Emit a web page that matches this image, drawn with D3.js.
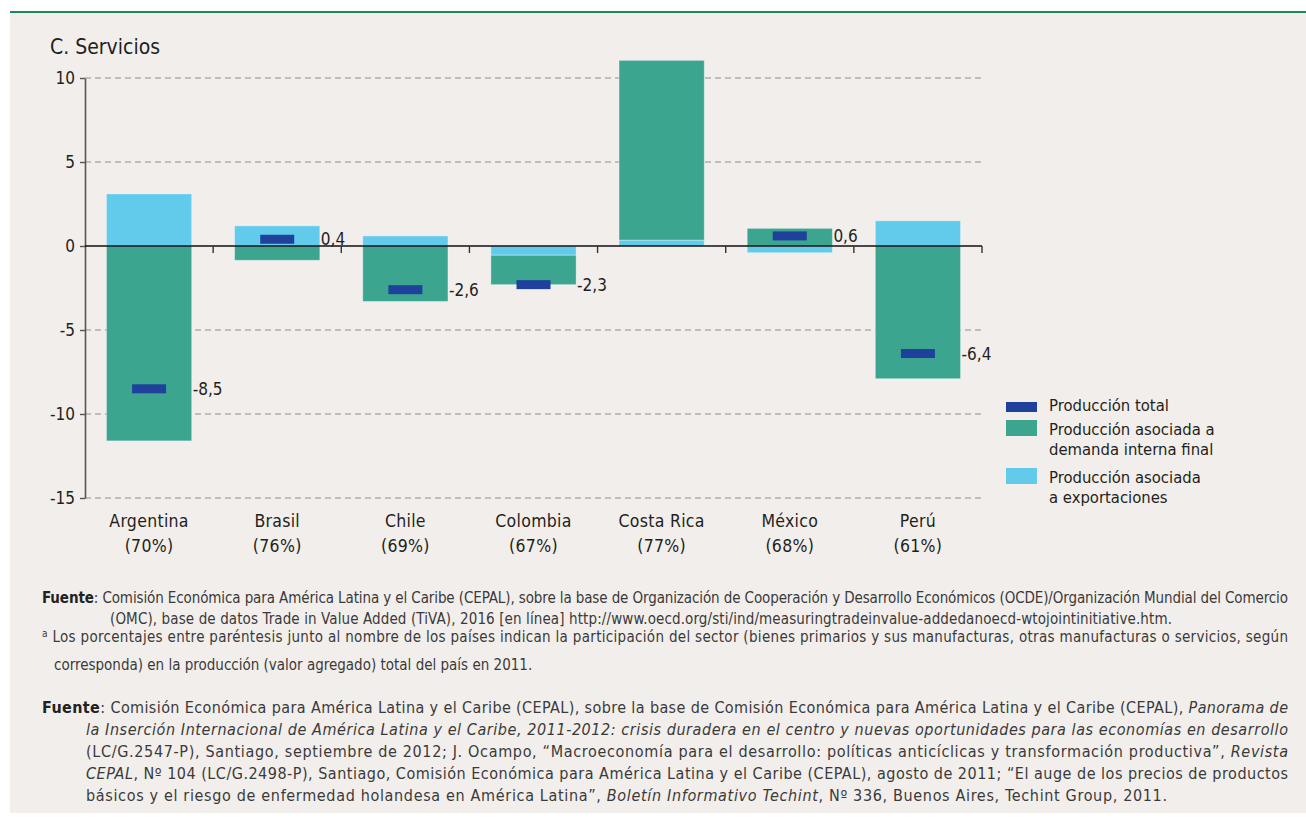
<!DOCTYPE html>
<html>
<head>
<meta charset="utf-8">
<script src="https://cdn.jsdelivr.net/npm/d3@7"></script>
<style>
  body { margin: 0; background: #ffffff; }
  svg { display: block; }
</style>
</head>
<body>
<div id="chart"></div>
<script>
const width = 1306;
const height = 825;

const countries = ["Argentina", "Brasil", "Chile", "Colombia", "Costa Rica", "México", "Perú"];
const shares = ["(70%)", "(76%)", "(69%)", "(67%)", "(77%)", "(68%)", "(61%)"];
const exportsProd = [3.1, 1.2, 0.6, -0.55, 0.35, -0.4, 1.5];
const domesticProd = [-11.6, -0.85, -3.3, -1.75, 10.7, 1.05, -7.9];
const totalProd = [-8.5, 0.4, -2.6, -2.3, null, 0.6, -6.4];
const totalLabels = ["-8,5", "0,4", "-2,6", "-2,3", "", "0,6", "-6,4"];
const yTicks = [10, 5, 0, -5, -10, -15];

const FONT = "'Liberation Sans Narrow', 'DejaVu Sans Condensed', 'Roboto', sans-serif";
const cDomestic = "#3ba590";
const cExports = "#62cbeb";
const cTotal = "#1f419b";
const cText = "#231f20";

const svg = d3
  .select("#chart")
  .append("svg")
  .attr("width", width)
  .attr("height", height)
  .style("font-family", FONT);

// panel + green top rule
svg.append("rect").attr("x", 10).attr("y", 13).attr("width", width - 10).attr("height", 800).attr("fill", "#f2eeeb");
svg.append("line").attr("x1", 10).attr("x2", width).attr("y1", 12).attr("y2", 12).attr("stroke", "#1a8a5e").attr("stroke-width", 2);

svg
  .append("text")
  .attr("x", 50)
  .attr("y", 54)
  .attr("font-size", 21)
  .attr("fill", cText)
  .text("C. Servicios");

const xScale = d3.scaleBand().domain(countries).range([85, 982]);
const yScale = d3.scaleLinear().domain([-15, 10]).range([498, 78]);
const barW = xScale.bandwidth() * 0.665;

// dashed grid
svg
  .append("g")
  .selectAll("line")
  .data(yTicks.filter((d) => d !== 0))
  .enter()
  .append("line")
  .attr("x1", 85)
  .attr("x2", 982)
  .attr("y1", (d) => yScale(d))
  .attr("y2", (d) => yScale(d))
  .attr("stroke", "#8f8f8f")
  .attr("stroke-width", 1)
  .attr("stroke-dasharray", "6,4");

// stacked bars (exports nearest to zero, then domestic)
const rows = countries.map((c, i) => ({ country: c, exports: exportsProd[i], domestic: domesticProd[i] }));
const series = d3.stack().keys(["exports", "domestic"]).offset(d3.stackOffsetDiverging)(rows);
const colors = { exports: cExports, domestic: cDomestic };

svg
  .append("g")
  .selectAll("g")
  .data(series)
  .enter()
  .append("g")
  .attr("fill", (s) => colors[s.key])
  .selectAll("rect")
  .data((s) => s)
  .enter()
  .append("rect")
  .attr("x", (d) => xScale(d.data.country) + (xScale.bandwidth() - barW) / 2)
  .attr("y", (d) => yScale(Math.max(d[0], d[1])))
  .attr("width", barW)
  .attr("height", (d) => Math.abs(yScale(d[0]) - yScale(d[1])))
  .attr("stroke", "rgba(255,255,255,0.35)")
  .attr("stroke-width", 1);

// y axis
const yAxis = d3
  .axisLeft(yScale)
  .tickValues(yTicks)
  .tickSize(5)
  .tickSizeOuter(0)
  .tickFormat((d) => String(d));

const gy = svg.append("g").attr("transform", "translate(85,0)").call(yAxis);
gy.select(".domain").attr("stroke", "#555").attr("stroke-width", 1.6);
gy.selectAll(".tick line").attr("stroke", "#555").attr("stroke-width", 1.4);
gy.selectAll(".tick text")
  .attr("font-family", FONT)
  .attr("font-size", 17)
  .attr("fill", cText)
  .attr("x", -10);

// x axis at zero with ticks at category boundaries
const y0 = yScale(0);
svg.append("line").attr("x1", 85).attr("x2", 982).attr("y1", y0).attr("y2", y0).attr("stroke", "#111").attr("stroke-width", 1.6);
const bounds = countries.map((c) => xScale(c)).concat([xScale.range()[1]]);
svg
  .append("g")
  .selectAll("line")
  .data(bounds.slice(1))
  .enter()
  .append("line")
  .attr("x1", (d) => d)
  .attr("x2", (d) => d)
  .attr("y1", y0)
  .attr("y2", y0 + 7)
  .attr("stroke", "#333")
  .attr("stroke-width", 1.4);

// total markers + labels
const tot = countries.map((c, i) => ({ country: c, v: totalProd[i], label: totalLabels[i] })).filter((d) => d.v !== null);

svg
  .append("g")
  .selectAll("rect")
  .data(tot)
  .enter()
  .append("rect")
  .attr("x", (d) => xScale(d.country) + xScale.bandwidth() / 2 - 17)
  .attr("y", (d) => yScale(d.v) - 4.5)
  .attr("width", 34)
  .attr("height", 9)
  .attr("fill", cTotal);

svg
  .append("g")
  .selectAll("text")
  .data(tot)
  .enter()
  .append("text")
  .attr("x", (d) => xScale(d.country) + (xScale.bandwidth() + barW) / 2 + 1)
  .attr("y", (d) => yScale(d.v))
  .attr("dy", "0.36em")
  .attr("font-size", 17)
  .attr("fill", cText)
  .text((d) => d.label);

// category labels
const cat = svg
  .append("g")
  .selectAll("text")
  .data(countries)
  .enter()
  .append("text")
  .attr("text-anchor", "middle")
  .attr("font-size", 17.5)
  .attr("letter-spacing", 0.3)
  .attr("fill", cText);
cat
  .append("tspan")
  .attr("x", (d) => xScale(d) + xScale.bandwidth() / 2)
  .attr("y", 527)
  .text((d) => d);
cat
  .append("tspan")
  .attr("x", (d) => xScale(d) + xScale.bandwidth() / 2)
  .attr("y", 552)
  .text((d, i) => shares[i]);

// legend
const legend = svg.append("g").attr("font-size", 16.5).attr("fill", cText);
legend.append("rect").attr("x", 1006).attr("y", 402).attr("width", 31).attr("height", 10).attr("fill", cTotal);
legend.append("rect").attr("x", 1006).attr("y", 420).attr("width", 31).attr("height", 16).attr("fill", cDomestic);
legend.append("rect").attr("x", 1006).attr("y", 468).attr("width", 31).attr("height", 16).attr("fill", cExports);
[
  ["Producción total", 411],
  ["Producción asociada a", 435],
  ["demanda interna final", 455],
  ["Producción asociada", 483],
  ["a exportaciones", 503],
].forEach(([t, y]) => {
  legend.append("text").attr("x", 1049).attr("y", y).text(t);
});

// notes
const notes = svg.append("g").attr("fill", "#3a3a3a");

function noteLine(x, y, size, parts, len) {
  const t = notes.append("text").attr("x", x).attr("y", y).attr("font-size", size);
  parts.forEach((p) => {
    const s = t.append("tspan").text(p.t);
    if (p.b) s.attr("font-weight", "bold").attr("fill", "#222");
    if (p.i) s.attr("font-style", "italic");
    if (p.sup) s.attr("font-size", 10).attr("dy", -5);
    if (p.down) s.attr("dy", 5);
  });
  if (len) t.attr("textLength", len).attr("lengthAdjust", "spacing");
  return t;
}

noteLine(42, 603, 15, [
  { t: "Fuente", b: true },
  { t: ":  Comisión Económica para América Latina y el Caribe (CEPAL), sobre la base de Organización de Cooperación y Desarrollo Económicos (OCDE)/Organización Mundial del Comercio" },
], 1246);
noteLine(110, 624, 15, [
  { t: "(OMC), base de datos Trade in Value Added (TiVA), 2016 [en línea] http://www.oecd.org/sti/ind/measuringtradeinvalue-addedanoecd-wtojointinitiative.htm." },
], 1062);
noteLine(42, 642, 15, [
  { t: "a", sup: true },
  { t: " Los porcentajes entre paréntesis junto al nombre de los países indican la participación del sector (bienes primarios y sus manufacturas, otras manufacturas o servicios, según", down: true },
], 1246);
noteLine(54, 670, 15, [{ t: "corresponda) en la producción (valor agregado) total del país en 2011." }]);

noteLine(42, 713, 16, [
  { t: "Fuente", b: true },
  { t: ": Comisión Económica para América Latina y el Caribe (CEPAL), sobre la base de Comisión Económica para América Latina y el Caribe (CEPAL), " },
  { t: "Panorama de", i: true },
], 1246);
noteLine(86, 735, 16, [
  { t: "la Inserción Internacional de América Latina y el Caribe, 2011-2012: crisis duradera en el centro y nuevas oportunidades para las economías en desarrollo", i: true },
], 1202);
noteLine(86, 757, 16, [
  { t: "(LC/G.2547-P), Santiago, septiembre de 2012; J. Ocampo, “Macroeconomía para el desarrollo: políticas anticíclicas y transformación productiva”, " },
  { t: "Revista", i: true },
], 1202);
noteLine(86, 779, 16, [
  { t: "CEPAL", i: true },
  { t: ", Nº 104 (LC/G.2498-P), Santiago, Comisión Económica para América Latina y el Caribe (CEPAL), agosto de 2011; “El auge de los precios de productos" },
], 1202);
noteLine(86, 801, 16, [
  { t: "básicos y el riesgo de enfermedad holandesa en América Latina”, " },
  { t: "Boletín Informativo Techint", i: true },
  { t: ", Nº 336, Buenos Aires, Techint Group, 2011." },
], 1081);
</script>
</body>
</html>
